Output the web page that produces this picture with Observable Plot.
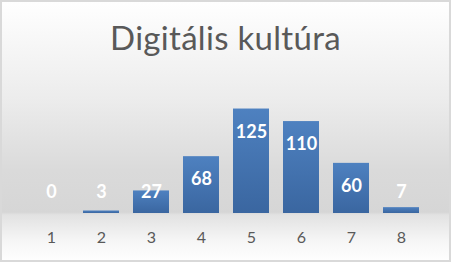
<!DOCTYPE html>
<html>
<head>
<meta charset="utf-8">
<script src="https://cdn.jsdelivr.net/npm/d3@7"></script>
<script src="https://cdn.jsdelivr.net/npm/@observablehq/plot@0.6"></script>
<style>
  html, body { margin: 0; padding: 0; background: #fff; }
  #chart {
    position: relative; width: 451px; height: 262px; overflow: hidden;
    background: linear-gradient(to bottom, #ffffff 0%, #ececec 38%, #dadada 65%, #d6d6d6 81%, #e2e2e2 82%, #f6f6f6 92%, #ffffff 100%);
  }
  #chart::after {
    content: ""; position: absolute; inset: 0; box-shadow: inset 0 0 0 2px #d9d9d9; pointer-events: none;
  }
  #title {
    position: absolute; left: 0; top: 21px; width: 451px; text-align: center;
    font-family: Lato, "Open Sans", sans-serif; font-weight: 400; font-size: 33px; line-height: 33px;
    letter-spacing: 0.3px; color: #595959;
  }
  #chart svg { position: absolute; left: 0; top: 0; }
</style>
</head>
<body>
<div id="chart"><div id="title">Digitális kultúra</div></div>
<script>
const categories = ["1", "2", "3", "4", "5", "6", "7", "8"];
const values = [0, 3, 27, 68, 125, 110, 60, 7];
const title = "Digitális kultúra";

const data = categories.map((c, i) => ({cat: c, value: values[i]}));
document.getElementById("title").textContent = title;

const plot = Plot.plot({
  width: 451,
  height: 262,
  marginLeft: 17,
  marginRight: 17,
  marginTop: 96,
  marginBottom: 49,
  style: {background: "transparent", fontFamily: "Lato, 'Open Sans', sans-serif"},
  x: {domain: categories, padding: 0.286, label: null},
  y: {domain: [0, 140], axis: null},
  marks: [
    Plot.axisX({tickSize: 0, tickPadding: 18, fontSize: 16, color: "#595959", label: null}),
    Plot.barY(data, {x: "cat", y: "value", fill: "url(#barGrad)"}),
    Plot.text(data, {
      x: "cat",
      y: d => Math.max(d.value, 52.6),
      dy: 23,
      text: d => String(d.value),
      fill: "white",
      fontWeight: "bold",
      fontSize: 18
    })
  ]
});

const svg = d3.select(plot);
const defs = svg.insert("defs", ":first-child");
const g = defs.append("linearGradient").attr("id", "barGrad").attr("x1", 0).attr("y1", 0).attr("x2", 0).attr("y2", 1);
g.append("stop").attr("offset", "0%").attr("stop-color", "#4e81c0");
g.append("stop").attr("offset", "100%").attr("stop-color", "#3a66a0");
document.getElementById("chart").appendChild(plot);
</script>
</body>
</html>
